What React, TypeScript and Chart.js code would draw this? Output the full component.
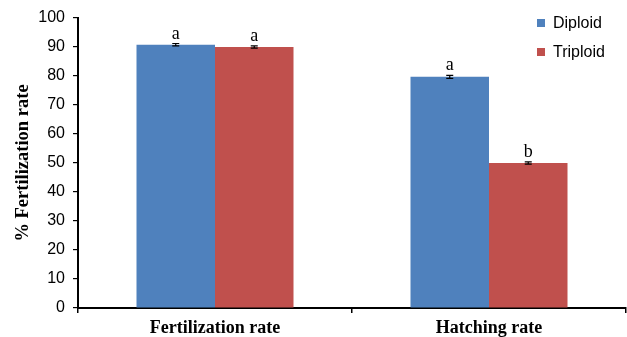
import React, { useEffect, useRef } from "react";
import { Chart, registerables } from "chart.js";

Chart.register(...registerables);

const categories = ["Fertilization rate", "Hatching rate"];
const seriesNames = ["Diploid", "Triploid"];
const diploidValues = [90.8, 79.7];
const triploidValues = [90.0, 50.0];
const diploidErrors = [0.4, 0.5];
const triploidErrors = [0.4, 0.4];
const diploidLetters = ["a", "a"];
const triploidLetters = ["a", "b"];
const yTicks = [0, 10, 20, 30, 40, 50, 60, 70, 80, 90, 100];
const colors = ["#4F81BD", "#C0504D"];

const errorPlugin = {
  id: "errorLetters",
  afterDatasetsDraw(chart: any) {
    const ctx = chart.ctx;
    const yScale = chart.scales.y;
    chart.data.datasets.forEach((ds: any, di: number) => {
      const meta = chart.getDatasetMeta(di);
      meta.data.forEach((bar: any, i: number) => {
        const v = ds.data[i];
        const e = ds.errors[i];
        const yHi = yScale.getPixelForValue(v + e);
        const yLo = yScale.getPixelForValue(v - e);
        const x = bar.x;
        ctx.save();
        ctx.strokeStyle = "#000";
        ctx.lineWidth = 1.2;
        ctx.beginPath();
        ctx.moveTo(x, yHi);
        ctx.lineTo(x, yLo);
        ctx.moveTo(x - 3.5, yHi);
        ctx.lineTo(x + 3.5, yHi);
        ctx.moveTo(x - 3.5, yLo);
        ctx.lineTo(x + 3.5, yLo);
        ctx.stroke();
        ctx.fillStyle = "#000";
        ctx.font = "18px 'Liberation Serif'";
        ctx.textAlign = "center";
        ctx.textBaseline = "alphabetic";
        ctx.fillText(ds.letters[i], x, yHi - 5);
        ctx.restore();
      });
    });
  },
};

const legendPlugin = {
  id: "customLegend",
  afterDraw(chart: any) {
    const ctx = chart.ctx;
    ctx.save();
    chart.data.datasets.forEach((ds: any, di: number) => {
      const cy = 23 + di * 29;
      ctx.fillStyle = ds.backgroundColor;
      ctx.fillRect(537, cy - 4, 8, 8);
      ctx.fillStyle = "#000";
      ctx.font = "16px 'Liberation Sans'";
      ctx.textAlign = "left";
      ctx.textBaseline = "middle";
      ctx.fillText(ds.label, 553, cy + 1);
    });
    ctx.restore();
  },
};

export default function App() {
  const ref = useRef<HTMLCanvasElement | null>(null);
  useEffect(() => {
    document.body.style.margin = "0";
    const chart = new Chart(ref.current as HTMLCanvasElement, {
      type: "bar",
      data: {
        labels: categories,
        datasets: [
          {
            label: seriesNames[0],
            data: diploidValues,
            backgroundColor: colors[0],
            errors: diploidErrors,
            letters: diploidLetters,
          } as any,
          {
            label: seriesNames[1],
            data: triploidValues,
            backgroundColor: colors[1],
            errors: triploidErrors,
            letters: triploidLetters,
          } as any,
        ],
      },
      options: {
        responsive: false,
        animation: false,
        layout: { padding: { top: 18, right: 1, left: 0, bottom: 0 } },
        datasets: { bar: { barPercentage: 1, categoryPercentage: 0.573 } },
        plugins: { legend: { display: false }, tooltip: { enabled: false } },
        scales: {
          x: {
            grid: {
              display: true,
              drawOnChartArea: false,
              drawTicks: true,
              tickLength: 5,
              color: "#000",
              lineWidth: 1.5,
              offset: true,
            },
            border: { color: "#000", width: 2 },
            ticks: {
              color: "#000",
              padding: 5,
              font: { family: "'Liberation Serif'", size: 18, weight: "bold" },
            },
            afterFit(scale: any) {
              scale.height = 29;
            },
          },
          y: {
            min: 0,
            max: 100,
            afterBuildTicks(scale: any) {
              scale.ticks = yTicks.map((v) => ({ value: v }));
            },
            grid: {
              display: true,
              drawOnChartArea: false,
              drawTicks: true,
              tickLength: 5,
              color: "#000",
              lineWidth: 1.2,
            },
            border: { color: "#000", width: 2 },
            ticks: {
              color: "#000",
              padding: 8,
              font: { family: "'Liberation Sans'", size: 16 },
            },
            title: {
              display: true,
              text: "% Fertilization rate",
              color: "#000",
              padding: { top: 12, bottom: 0 },
              font: { family: "'Liberation Serif'", size: 18.5, weight: "bold" },
            },
            afterFit(scale: any) {
              scale.width = 78;
            },
          },
        },
      } as any,
      plugins: [errorPlugin, legendPlugin],
    });
    return () => chart.destroy();
  }, []);
  return <canvas ref={ref} width={627} height={337} style={{ display: "block" }} />;
}
